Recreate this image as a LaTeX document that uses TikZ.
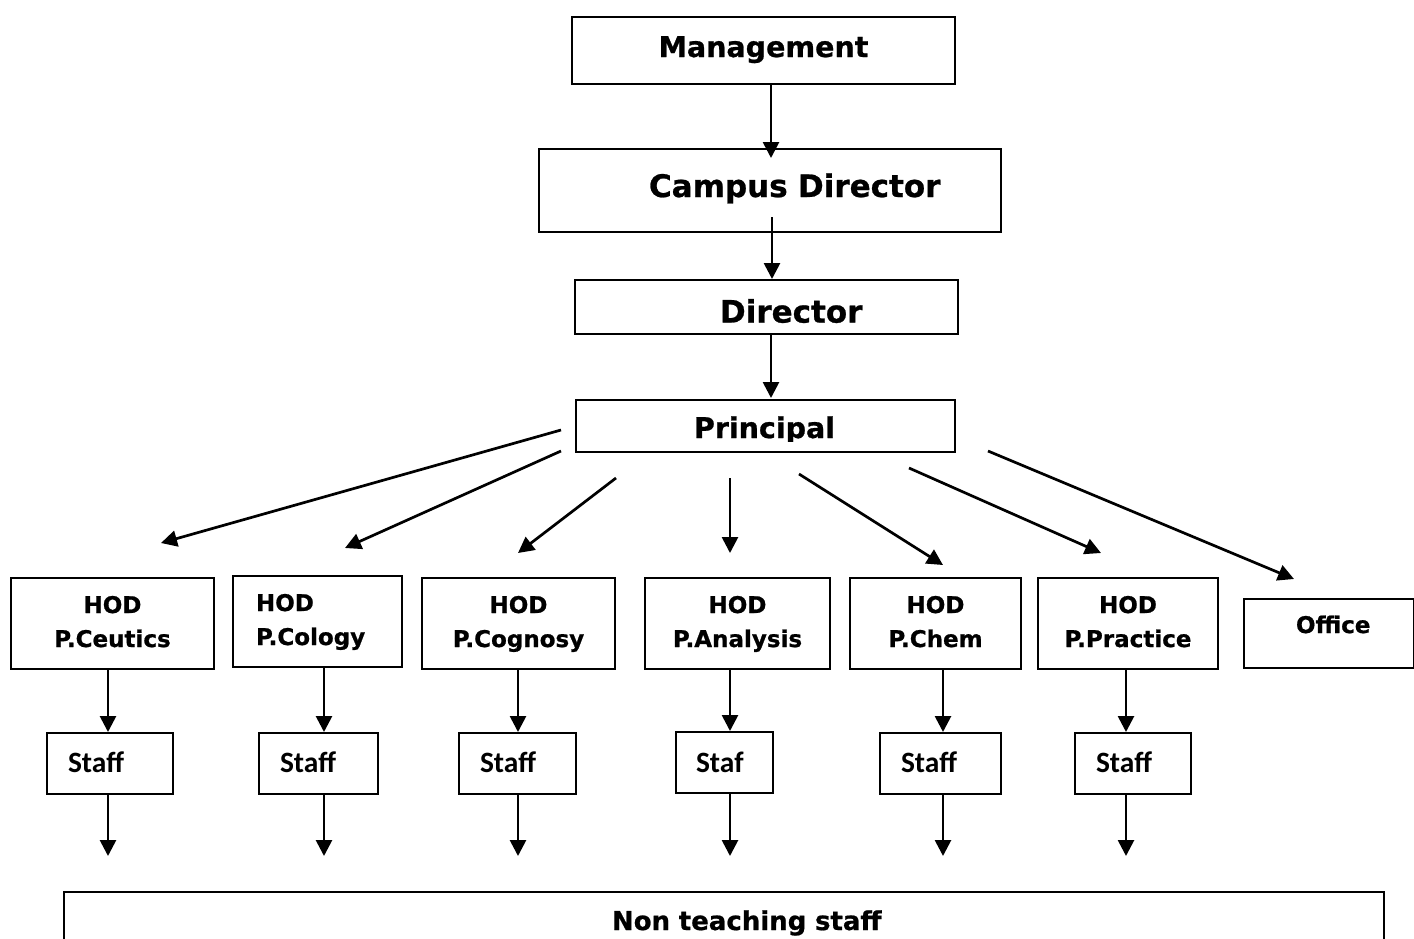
\documentclass[tikz,border=0pt]{standalone}
\usepackage{fontspec}
\usetikzlibrary{arrows.meta}
\newfontfamily\vfont{DejaVu Sans}[BoldFeatures={FakeBold=0.8}]
\newfontfamily\cfont{Carlito}
\begin{document}
\begin{tikzpicture}[x=1pt,y=-1pt,
  box/.style={draw, line width=2pt, inner xsep=0pt, inner ysep=0pt, anchor=base west},
  arr/.style={line width=2.7pt, -{Triangle[length=16pt,width=16pt]}},
  bigf/.style={font=\vfont\bfseries\fontsize{31}{36}\selectfont},
  midf/.style={font=\vfont\bfseries\fontsize{28.5}{34}\selectfont},
  hodf/.style={font=\vfont\bfseries\fontsize{23}{34}\selectfont},
  stafff/.style={font=\cfont\bfseries\fontsize{29.5}{34}\selectfont},
  hodbox/.style={box, hodf, text height=35pt, text depth=56pt, align=center},
  staffbox/.style={box, stafff, text height=39pt, text depth=22pt, align=left}
]
\useasboundingbox (0,0) rectangle (1414,938);

% top chain
\node[box, midf, text width=383pt, text height=40pt, text depth=27pt, align=center] (management) at (571,57) {Management};
\node[box, bigf, text width=462pt, text height=48pt, text depth=35pt, align=left] (campus) at (538,197) {\hspace*{110pt}Campus Director};
\node[box, bigf, text width=383pt, text height=42.6pt, text depth=11.4pt, align=left] (director) at (574,322.6) {\hspace*{145pt}Director};
\node[draw, line width=2pt, inner sep=0pt, anchor=north west, minimum width=379pt, minimum height=52pt] (principal) at (575,399) {};
\begin{scope}
  \clip (575,395) rectangle (954,441);
  \node[midf, anchor=base] (principaltext) at (764.5,438) {Principal};
\end{scope}

% HOD boxes
\node[hodbox, text width=203pt] (hod1) at (10,613) {HOD\\P.Ceutics};
\node[hodbox, text width=169pt, align=left] (hod2) at (232,611) {\hspace*{23pt}HOD\\\hspace*{23pt}P.Cology};
\node[hodbox, text width=193pt] (hod3) at (421,613) {HOD\\P.Cognosy};
\node[hodbox, text width=185pt] (hod4) at (644,613) {HOD\\P.Analysis};
\node[hodbox, text width=171pt] (hod5) at (849,613) {HOD\\P.Chem};
\node[hodbox, text width=180pt] (hod6) at (1037,613) {HOD\\P.Practice};
\node[box, hodf, text width=170pt, text height=34pt, text depth=35pt, align=left] (office) at (1243,633) {\hspace*{52pt}Office};

% staff boxes
\node[staffbox, text width=126pt] (staff1) at (46,772) {\hspace*{21pt}Staff};
\node[staffbox, text width=119pt] (staff2) at (258,772) {\hspace*{21pt}Staff};
\node[staffbox, text width=117pt] (staff3) at (458,772) {\hspace*{21pt}Staff};
\node[staffbox, text width=97pt, text height=40pt, text depth=21pt] (staff4) at (675,772) {\hspace*{20pt}Staf};
\node[staffbox, text width=121pt] (staff5) at (879,772) {\hspace*{21pt}Staff};
\node[staffbox, text width=116pt] (staff6) at (1074,772) {\hspace*{21pt}Staff};

% non teaching staff
\node[box, font=\vfont\bfseries\fontsize{26}{32}\selectfont, text width=1320pt, text height=38pt, text depth=40pt, align=left] (nonteaching) at (63,930) {\hspace*{548pt}Non teaching staff};

% top arrows
\coordinate (m2c) at (771,158);
\coordinate (c2d) at (772,217);
\coordinate (d2p) at (771,398);
\draw[arr] (management.south -| m2c) -- (m2c);
\draw[arr] (c2d) -- (director.north -| c2d);
\draw[arr] (director.south -| d2p) -- (d2p);

% principal arrows
\coordinate (p1s) at (561,430); \coordinate (p1e) at (161,543);
\coordinate (p2s) at (561,451); \coordinate (p2e) at (345,548);
\coordinate (p3s) at (616,478); \coordinate (p3e) at (518,553);
\coordinate (p4s) at (730,478); \coordinate (p4e) at (730,553);
\coordinate (p5s) at (799,474); \coordinate (p5e) at (943,565);
\coordinate (p6s) at (909,468); \coordinate (p6e) at (1101,553);
\coordinate (p7s) at (988,451); \coordinate (p7e) at (1294,579);
\foreach \i in {1,...,7} { \draw[arr] (p\i s) -- (p\i e); }

% columns
\coordinate (c1) at (108,856);
\coordinate (c2) at (324,856);
\coordinate (c3) at (518,856);
\coordinate (c4) at (730,856);
\coordinate (c5) at (943,856);
\coordinate (c6) at (1126,856);
\foreach \i in {1,...,6} {
  \draw[arr] (hod\i.south -| c\i) -- (staff\i.north -| c\i);
  \draw[arr] (staff\i.south -| c\i) -- (c\i);
}
\end{tikzpicture}
\end{document}
